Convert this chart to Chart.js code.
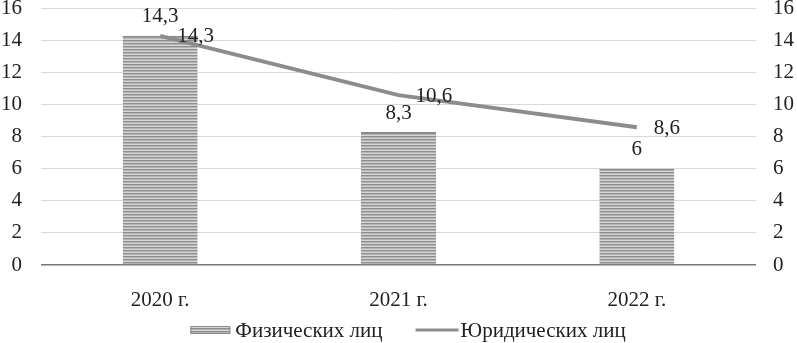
<!DOCTYPE html>
<html>
<head>
<meta charset="utf-8">
<script src="https://cdn.jsdelivr.net/npm/chart.js@4"></script>
<style>
  html, body { margin: 0; padding: 0; background: #fff; }
  #wrap { width: 797px; height: 343px; overflow: hidden; position: relative; }
  #chart { position: absolute; left: 0; top: -23px; }
</style>
</head>
<body>
<div id="wrap"><canvas id="chart" width="797" height="366"></canvas></div>
<script>
const categories = ['2020 г.', '2021 г.', '2022 г.'];
const fizValues = [14.3, 8.3, 6];
const yurValues = [14.3, 10.6, 8.6];
const seriesNames = ['Физических лиц', 'Юридических лиц'];

// striped fill for the bars
function makeStripes() {
  const c = document.createElement('canvas');
  c.width = 4; c.height = 3;
  const g = c.getContext('2d');
  g.fillStyle = '#d6d6d6';
  g.fillRect(0, 0, 4, 3);
  g.fillStyle = '#8e8e8e';
  g.fillRect(0, 0, 4, 1);
  g.fillStyle = '#b4b4b4';
  g.fillRect(0, 1, 4, 1);
  return g.createPattern(c, 'repeat');
}
const stripes = makeStripes();

const fmt = v => String(v).replace('.', ',');
const FONT = '"Liberation Serif", serif';
const LINE_GREY = '#8c8c8c';

// value labels, comma decimals
const valueLabels = {
  id: 'valueLabels',
  afterDatasetsDraw(chart) {
    const ctx = chart.ctx;
    ctx.save();
    ctx.font = '21px ' + FONT;
    ctx.fillStyle = '#222';
    ctx.textBaseline = 'middle';
    chart.getDatasetMeta(0).data.forEach((el, i) => {
      ctx.textAlign = 'center';
      ctx.fillText(fmt(fizValues[i]), el.x, el.y - 19);
    });
    chart.getDatasetMeta(1).data.forEach((el, i) => {
      ctx.textAlign = 'left';
      ctx.fillText(fmt(yurValues[i]), el.x + 17, el.y + 1);
    });
    ctx.restore();
  }
};

// legend below the axis, drawn by hand
const bottomLegend = {
  id: 'bottomLegend',
  afterDraw(chart) {
    const ctx = chart.ctx;
    ctx.save();
    ctx.font = '21px ' + FONT;
    ctx.fillStyle = '#222';
    ctx.textBaseline = 'middle';
    const w1 = ctx.measureText(seriesNames[0]).width;
    const w2 = ctx.measureText(seriesNames[1]).width;
    const total = 40 + 5 + w1 + 33 + 43 + 2 + w2;
    let x = 408 - total / 2;
    const y = chart.chartArea.bottom + 65;
    ctx.fillStyle = stripes;
    ctx.fillRect(x, y - 3, 40, 6);
    ctx.strokeStyle = '#8a8a8a';
    ctx.lineWidth = 1;
    ctx.strokeRect(x + 0.5, y - 3.5, 39, 7);
    x += 45;
    ctx.fillStyle = '#222';
    ctx.textAlign = 'left';
    ctx.fillText(seriesNames[0], x, y + 1);
    x += w1 + 33;
    ctx.strokeStyle = LINE_GREY;
    ctx.lineWidth = 3;
    ctx.beginPath();
    ctx.moveTo(x, y);
    ctx.lineTo(x + 43, y);
    ctx.stroke();
    x += 45;
    ctx.fillText(seriesNames[1], x, y + 1);
    ctx.restore();
  }
};

const tickFont = { family: FONT, size: 21 };

const chart = new Chart(document.getElementById('chart'), {
  type: 'bar',
  data: {
    labels: categories,
    datasets: [{
      label: seriesNames[0],
      data: fizValues,
      backgroundColor: stripes,
      borderColor: '#8a8a8a',
      borderWidth: { top: 2, left: 0, right: 0, bottom: 0 },
      categoryPercentage: 1,
      barPercentage: 0.315,
      yAxisID: 'y',
      order: 2
    }, {
      type: 'line',
      label: seriesNames[1],
      data: yurValues,
      borderColor: LINE_GREY,
      backgroundColor: LINE_GREY,
      borderWidth: 4,
      pointRadius: 0,
      tension: 0,
      yAxisID: 'y1',
      order: 1
    }]
  },
  options: {
    responsive: false,
    animation: false,
    layout: { padding: { top: 0, left: 0, right: 0, bottom: 27 } },
    plugins: {
      tooltip: { enabled: false },
      legend: { display: false }
    },
    scales: {
      x: {
        grid: { display: false },
        border: { display: false },
        ticks: { font: tickFont, color: '#222', padding: 15 },
        afterFit: s => { s.height = 51; }
      },
      y: {
        position: 'left',
        min: 0, max: 16,
        ticks: { stepSize: 2, font: tickFont, color: '#222', padding: 19 },
        grid: {
          color: ctx => ctx.tick.value === 0 ? '#777' : '#d9d9d9',
          lineWidth: ctx => ctx.tick.value === 0 ? 1.5 : 1,
          drawTicks: false
        },
        border: { display: false },
        afterFit: s => { s.width = 41; }
      },
      y1: {
        position: 'right',
        min: 0, max: 16,
        ticks: { stepSize: 2, font: tickFont, color: '#222', padding: 17 },
        grid: { display: false, drawTicks: false },
        border: { display: false },
        afterFit: s => { s.width = 41; }
      }
    }
  },
  plugins: [valueLabels, bottomLegend]
});
</script>
</body>
</html>
